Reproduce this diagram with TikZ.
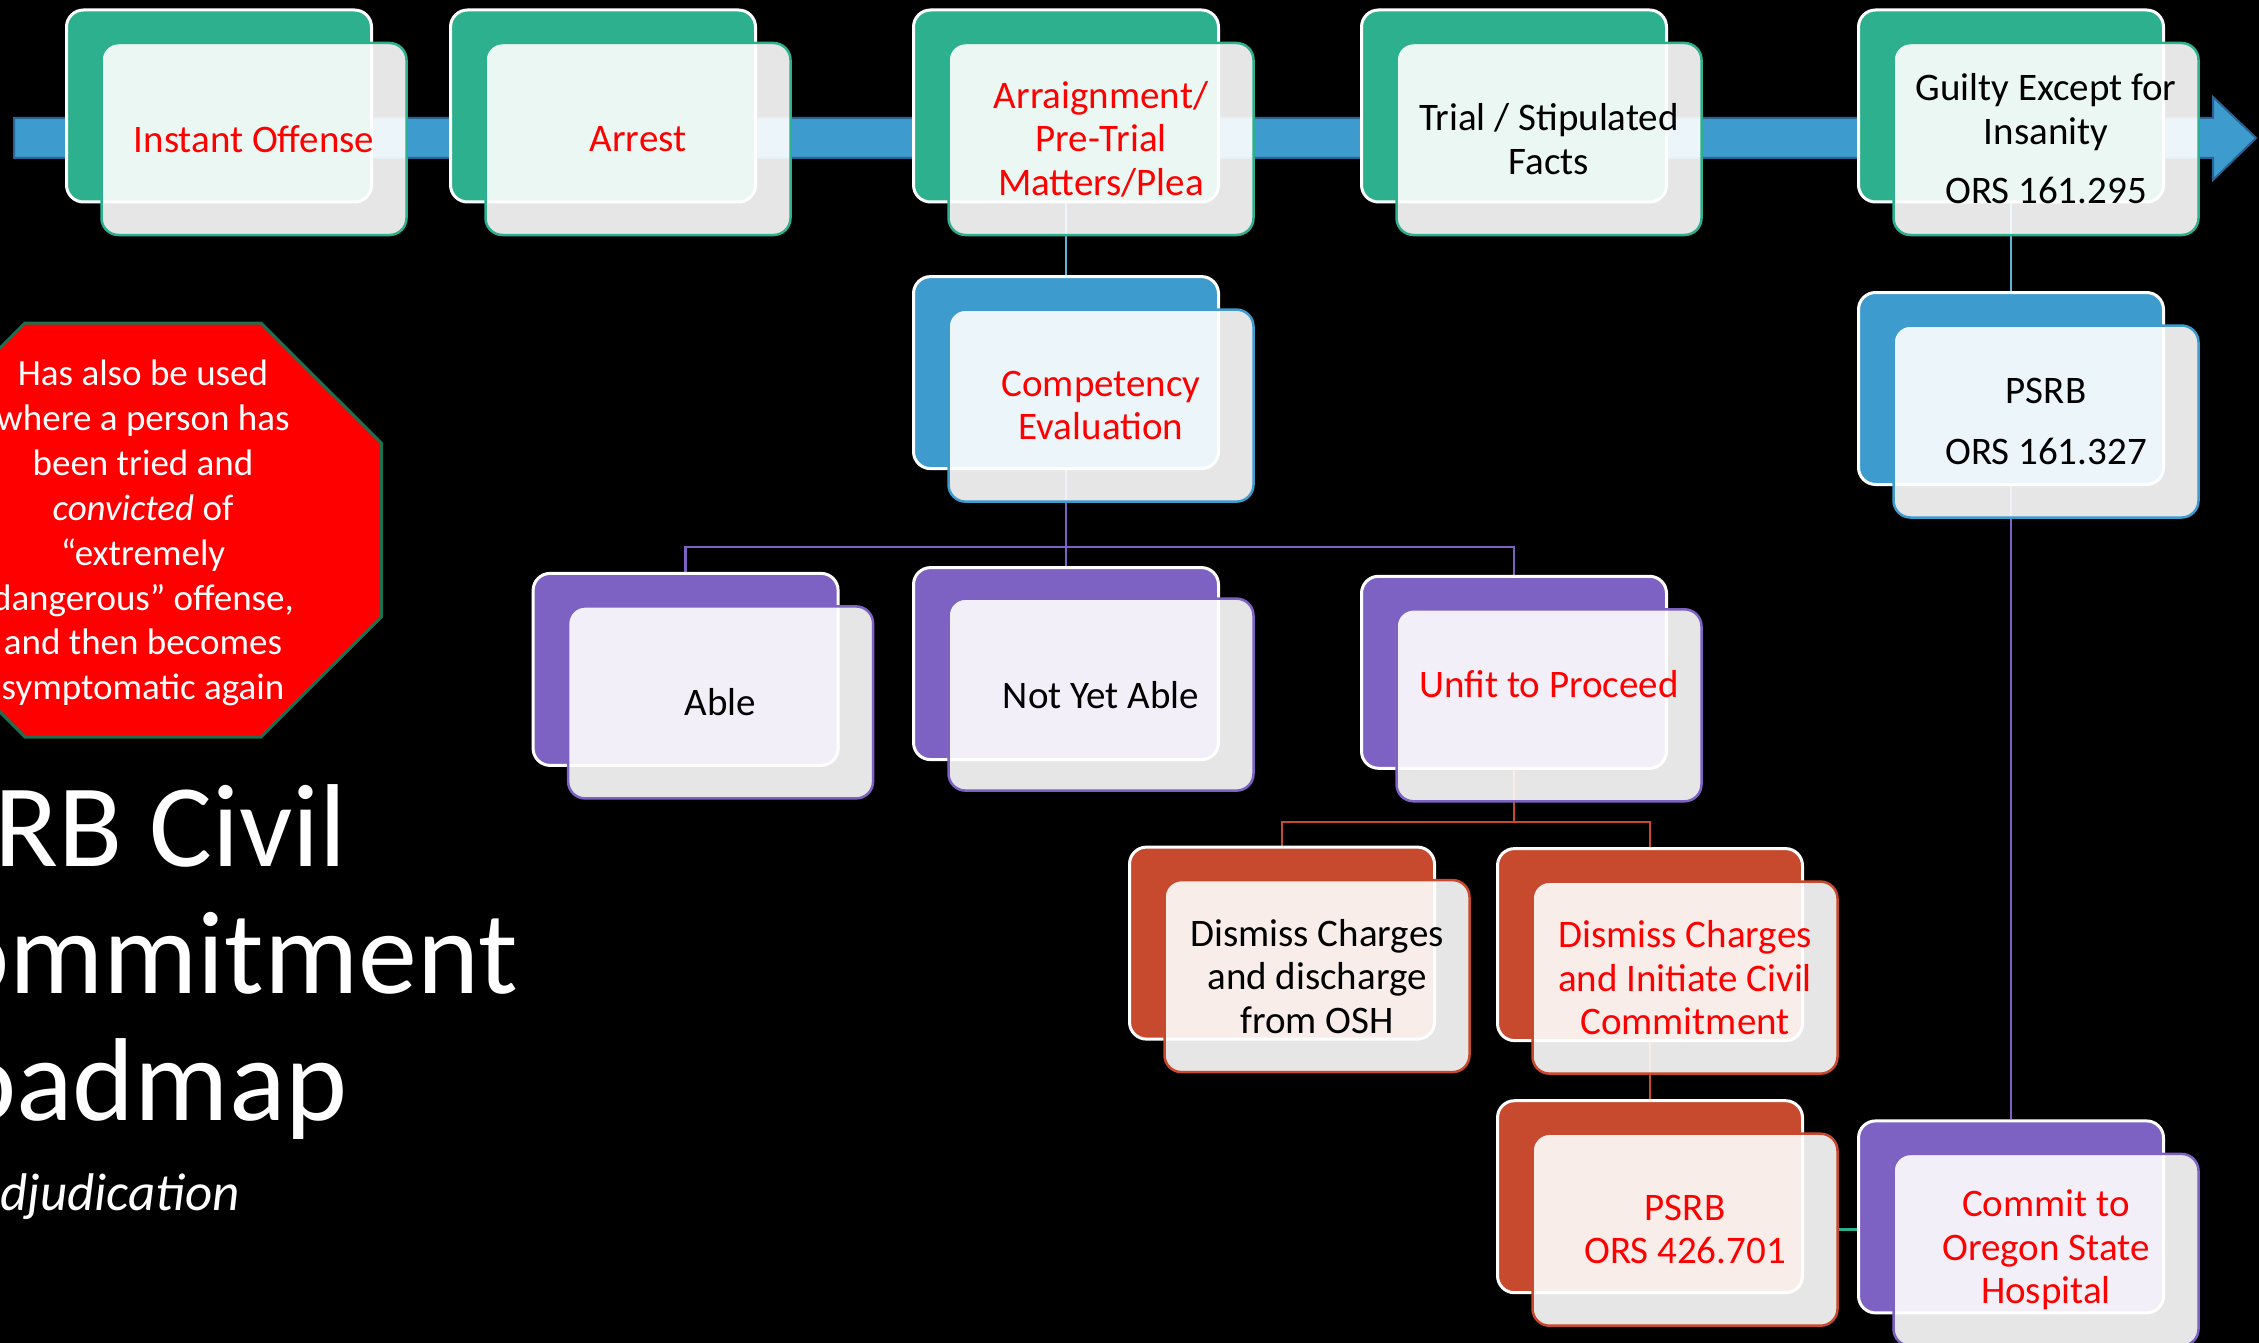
\documentclass[tikz,border=0pt]{standalone}
\usepackage{fontspec}
\setmainfont{Carlito}
\usepackage{xcolor}
\definecolor{stepgreen}{RGB}{44,176,142}
\definecolor{stepblue}{RGB}{62,155,205}
\definecolor{steppurple}{RGB}{125,98,196}
\definecolor{steprust}{RGB}{200,74,46}
\definecolor{linkblue}{RGB}{90,180,222}
\definecolor{signgreen}{RGB}{30,110,80}
\definecolor{arrowedge}{RGB}{40,100,150}
\pgfdeclarelayer{bg}
\pgfsetlayers{bg,main}

\begin{document}
\begin{tikzpicture}[x=1pt,y=-1pt]
    % styles
    \tikzset{
      backbox/.style  = {rounded corners=17pt, minimum width=305pt, minimum height=192pt,
                         inner sep=0pt, draw=white, line width=3pt},
      frontbox/.style = {rounded corners=17pt, minimum width=305pt, minimum height=192pt,
                         inner sep=0pt, fill=white, fill opacity=0.9, text opacity=1,
                         line width=2.5pt, align=center, text=black,
                         font=\fontsize{39}{43.5}\selectfont},
      redtext/.style  = {text=red},
      link/.style     = {line width=2.5pt},
      signfill/.style = {fill=red, draw=signgreen, line width=3pt},
      titletext/.style = {text=white, inner sep=0pt, anchor=base west,
                          font=\fontsize{118}{127}\selectfont},
      arrowband/.style = {fill=stepblue, draw=arrowedge, line width=2pt}
    }
    \useasboundingbox (0,0) rectangle (2259,1343);

    % Top row (timeline):
    \node[backbox, fill=stepgreen] (offb) at (219,106) {};
    \node[frontbox, draw=stepgreen, redtext] (off) at ([shift={(35,33)}]offb.center) {Instant Offense};
    \node[backbox, fill=stepgreen] (arrb) at (603,106) {};
    \node[frontbox, draw=stepgreen, redtext] (arr) at ([shift={(35,33)}]arrb.center) {Arrest};
    \node[backbox, fill=stepgreen] (argb) at (1066,106) {};
    \node[frontbox, draw=stepgreen, redtext] (arg) at ([shift={(35,33)}]argb.center) {Arraignment/\\Pre-Trial\\Matters/Plea};
    \node[backbox, fill=stepgreen] (trib) at (1514,106) {};
    \node[frontbox, draw=stepgreen] (tri) at ([shift={(35,33)}]trib.center) {Trial / Stipulated\\Facts};
    \node[backbox, fill=stepgreen] (geib) at (2011,106) {};
    \node[frontbox, draw=stepgreen] (gei) at ([shift={(35,33)}]geib.center) {Guilty Except for\\Insanity\\[16pt]ORS 161.295};

    % Second level:
    \node[backbox, fill=stepblue] (cmpb) at (1066,372.6) {};
    \node[frontbox, draw=stepblue, redtext] (cmp) at ([shift={(35,33)}]cmpb.center) {Competency\\Evaluation};
    \node[backbox, fill=stepblue] (psrb) at (2011,388.5) {};
    \node[frontbox, draw=stepblue] (psr) at ([shift={(35,33)}]psrb.center) {PSRB\\[18pt]ORS 161.327};

    % Competency outcomes:
    \node[backbox, fill=steppurple] (ablb) at (685.6,669.4) {};
    \node[frontbox, draw=steppurple] (abl) at ([shift={(35,33)}]ablb.center) {Able};
    \node[backbox, fill=steppurple] (nyab) at (1066,663.6) {};
    \node[frontbox, draw=steppurple] (nya) at ([shift={(35,31)}]nyab.center) {Not Yet Able};
    \node[backbox, fill=steppurple] (unfb) at (1514,672.3) {};
    \node[frontbox, draw=steppurple, redtext] (unf) at ([shift={(35,33)}]unfb.center) {Unfit to Proceed\\\mbox{}};

    % Unfit branch:
    \node[backbox, fill=steprust] (disb) at (1282,943.1) {};
    \node[frontbox, draw=steprust] (dis) at ([shift={(35,33)}]disb.center) {Dismiss Charges\\and discharge\\from OSH};
    \node[backbox, fill=steprust] (dcib) at (1650,944.6) {};
    \node[frontbox, draw=steprust, redtext] (dci) at ([shift={(35,33)}]dcib.center) {Dismiss Charges\\and Initiate Civil\\Commitment};
    \node[backbox, fill=steprust] (civb) at (1650,1196.7) {};
    \node[frontbox, draw=steprust, redtext] (civ) at ([shift={(35,33)}]civb.center) {PSRB\\ORS 426.701};
    \node[backbox, fill=steppurple] (oshb) at (2011,1216.9) {};
    \node[frontbox, draw=steppurple, redtext] (osh) at ([shift={(35,33)}]oshb.center) {Commit to\\Oregon State\\Hospital};

    \begin{pgfonlayer}{bg}
    \fill[black] (0,0) rectangle (2259,1343);
    % Timeline arrow:
    \draw[arrowband] (14,118) -- (2213,118) -- (2213,97) -- (2256,138)
      -- (2213,180) -- (2213,158) -- (14,158) -- cycle;
    % Connectors:
    \draw[link, linkblue] (argb.south) -- (cmpb.north);
    \draw[link, linkblue] (geib.south) -- (psrb.north);
    \draw[link, steppurple] (cmpb.south) -- ++(0,77) -| (ablb.north);
    \draw[link, steppurple] (cmpb.south) -- ++(0,77) -| (unfb.north);
    \draw[link, steppurple] (cmpb.south) -- (nyab.north);
    \draw[link, steprust] (unfb.south) -- ++(0,52) -| (disb.north);
    \draw[link, steprust] (unfb.south) -- ++(0,52) -| (dcib.north);
    \draw[link, steprust] (dcib.south) -- (civb.north);
    \draw[link, steppurple] (psrb.south) -- (oshb.north);
    \draw[link, stepgreen] (civ.east) -- (civ.east -| oshb.west);
    \end{pgfonlayer}

    % Warning sign:
    \draw[signfill] (25,323) -- (261,323) -- (381.7,443.5) -- (381.7,616.5)
      -- (261,737) -- (25,737) -- (-95.7,616.5) -- (-95.7,443.5) -- cycle;
    \node[text=white, align=center, font=\fontsize{37}{44.9}\selectfont] (note) at (143,533)
      {Has also be used\\where a person has\\been tried and\\\textit{convicted} of\\“extremely\\dangerous” offense,\\and then becomes\\symptomatic again};

    % Title:
    \node[titletext] (ttla) at (-6,866) {RB Civil};
    \node[titletext] (ttlb) at (-53,993) {ommitment};
    \node[titletext] (ttlc) at (-46,1120) {oadmap};
    \node[titletext, font=\fontsize{53}{60}\selectfont\itshape] (ttld) at (0,1210) {djudication};
\end{tikzpicture}
\end{document}
